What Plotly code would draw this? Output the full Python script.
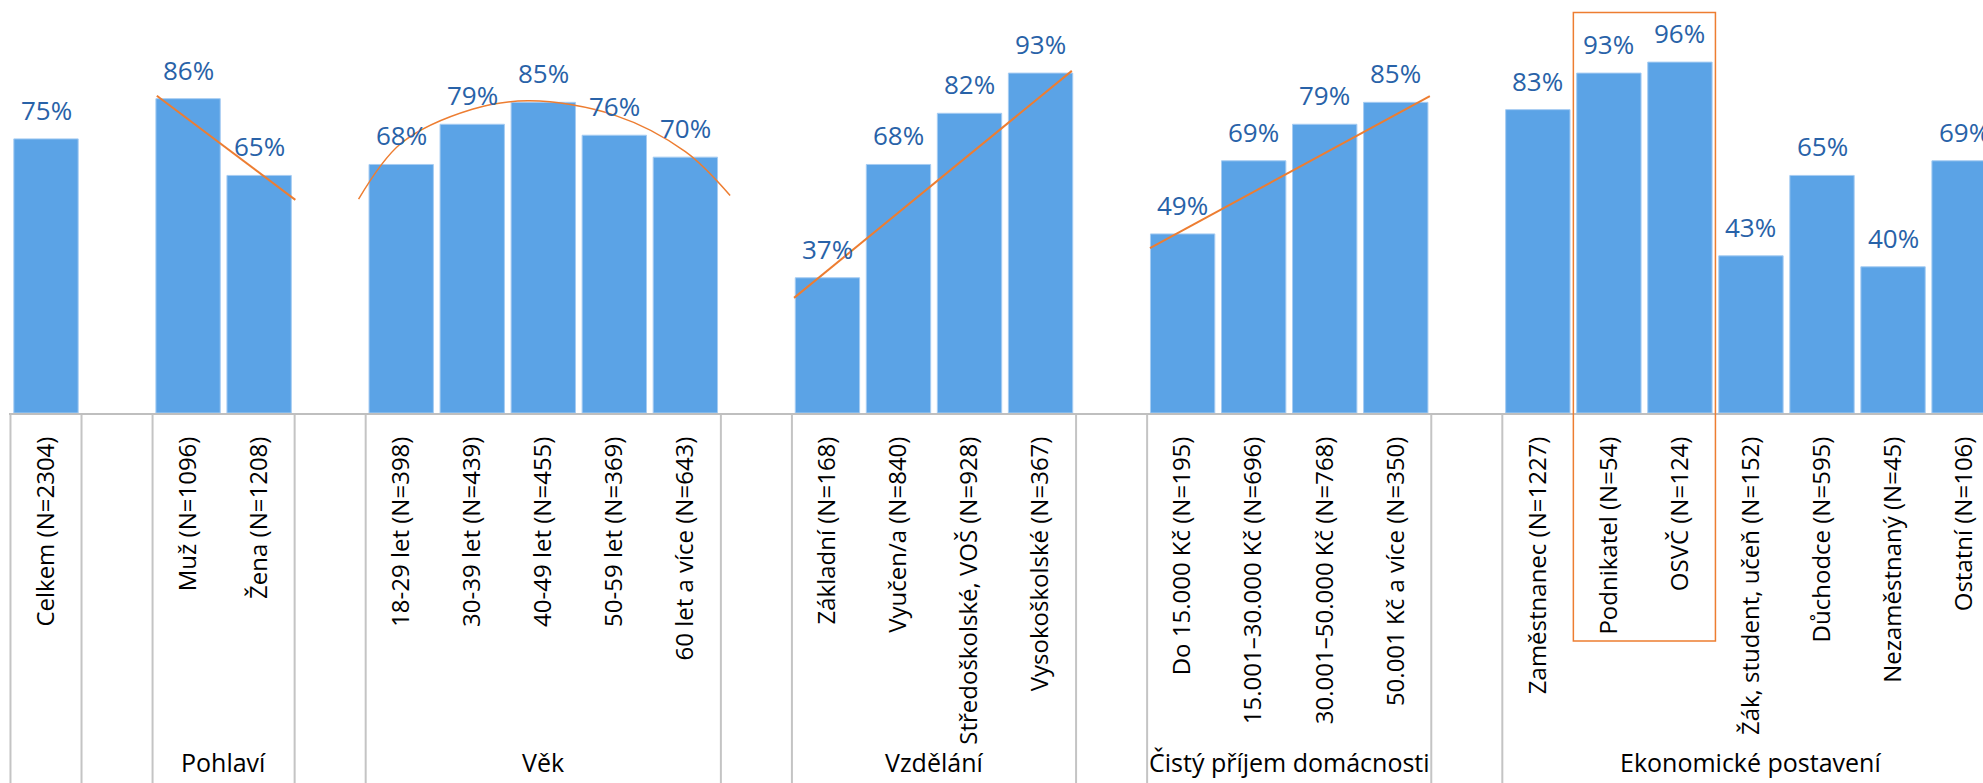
import plotly.graph_objects as go

# ---------------- data ----------------
categories = [
    "Celkem (N=2304)", "",
    "Muž (N=1096)", "Žena (N=1208)", "",
    "18-29 let (N=398)", "30-39 let (N=439)", "40-49 let (N=455)", "50-59 let (N=369)", "60 let a více (N=643)", "",
    "Základní (N=168)", "Vyučen/a (N=840)", "Středoškolské, VOŠ (N=928)", "Vysokoškolské (N=367)", "",
    "Do 15.000 Kč (N=195)", "15.001–30.000 Kč (N=696)", "30.001–50.000 Kč (N=768)", "50.001 Kč a více (N=350)", "",
    "Zaměstnanec (N=1227)", "Podnikatel (N=54)", "OSVČ (N=124)", "Žák, student, učeň (N=152)",
    "Důchodce (N=595)", "Nezaměstnaný (N=45)", "Ostatní (N=106)",
]
values = [
    0.75, None,
    0.86, 0.65, None,
    0.68, 0.79, 0.85, 0.76, 0.70, None,
    0.37, 0.68, 0.82, 0.93, None,
    0.49, 0.69, 0.79, 0.85, None,
    0.83, 0.93, 0.96, 0.43, 0.65, 0.40, 0.69,
]
groups = ["Pohlaví", "Věk", "Vzdělání", "Čistý příjem domácnosti", "Ekonomické postavení"]
group_centers = [2.5, 7.0, 12.5, 17.5, 24.0]
separators = [-0.5, 0.5, 1.5, 3.5, 4.5, 9.5, 10.5, 14.5, 15.5, 19.5, 20.5]

# trend lines (category position, share)
trend_pohlavi_x = [1.56, 3.51]
trend_pohlavi_y = [0.868, 0.583]
trend_vek_x = [4.40, 5.0, 6.0, 6.81, 8.0, 9.0, 9.63]
trend_vek_y = [0.585, 0.738, 0.831, 0.854, 0.815, 0.715, 0.595]
trend_vzdel_x = [10.53, 14.44]
trend_vzdel_y = [0.315, 0.936]
trend_prijem_x = [15.54, 19.48]
trend_prijem_y = [0.451, 0.867]

# highlight box (category positions)
box_x = [21.5, 23.5]

# ---------------- figure ----------------
xs = list(range(len(categories)))
bar_x = [x for x, v in zip(xs, values) if v is not None]
bar_y = [v for v in values if v is not None]

BLUE = "#5BA3E6"
ORANGE = "#ED7D31"
LABEL = "#2862A8"
FONT = "Open Sans"

fig = go.Figure()
fig.add_trace(go.Bar(
    x=bar_x, y=bar_y, width=0.906,
    marker=dict(color=BLUE, line=dict(color="#A6CCF2", width=1)),
    hoverinfo="skip", showlegend=False,
))

for tx, ty, w, shp in [
    (trend_pohlavi_x, trend_pohlavi_y, 2, "linear"),
    (trend_vek_x, trend_vek_y, 1.5, "spline"),
    (trend_vzdel_x, trend_vzdel_y, 2, "linear"),
    (trend_prijem_x, trend_prijem_y, 2, "linear"),
]:
    fig.add_trace(go.Scatter(
        x=tx, y=ty, mode="lines",
        line=dict(color=ORANGE, width=w, shape=shp, smoothing=1.0),
        hoverinfo="skip", showlegend=False,
    ))

annotations = []
for x, v in zip(bar_x, bar_y):
    annotations.append(dict(
        x=x, y=v, xref="x", yref="y", text=f"{round(v*100)}%",
        showarrow=False, yanchor="bottom", yshift=9,
        font=dict(family=FONT, size=26, color=LABEL),
    ))

PH = 413  # plot height in px
for g, c in zip(groups, group_centers):
    annotations.append(dict(
        x=c, y=(413 - 762) / PH, xref="x", yref="paper", text=g,
        showarrow=False, yanchor="middle",
        font=dict(family=FONT, size=25, color="#000000"),
    ))

shapes = []
for s in separators:
    shapes.append(dict(
        type="line", xref="x", yref="paper", x0=s, x1=s, y0=0, y1=-370 / PH,
        line=dict(color="#C4C4C4", width=2), layer="below",
    ))
shapes.append(dict(
    type="rect", xref="x", yref="paper", x0=box_x[0], x1=box_x[1],
    y0=(413 - 641) / PH, y1=(413 - 12.5) / PH,
    line=dict(color=ORANGE, width=1.5), fillcolor="rgba(0,0,0,0)",
))

fig.update_layout(
    width=1983, height=783,
    margin=dict(l=9, r=0, t=0, b=370),
    paper_bgcolor="white", plot_bgcolor="white",
    annotations=annotations, shapes=shapes,
    xaxis=dict(
        range=[(9 - 46) / 71.04, (1983 - 46) / 71.04],
        tickmode="array", tickvals=xs, ticktext=categories,
        tickangle=-90, ticks="", showgrid=False, zeroline=False,
        showline=True, linecolor="#BFBFBF", linewidth=2,
        tickfont=dict(family=FONT, size=24, color="#000000"),
        ticklabelstandoff=12,
        fixedrange=True,
    ),
    yaxis=dict(
        range=[0, 413 / 365.5], visible=False, showgrid=False, fixedrange=True,
    ),
    bargap=0.094,
)

fig.write_html(
    "out.html",
    config={"displayModeBar": False},
    post_script="document.body.style.margin='0px';document.body.style.overflow='hidden';",
)
